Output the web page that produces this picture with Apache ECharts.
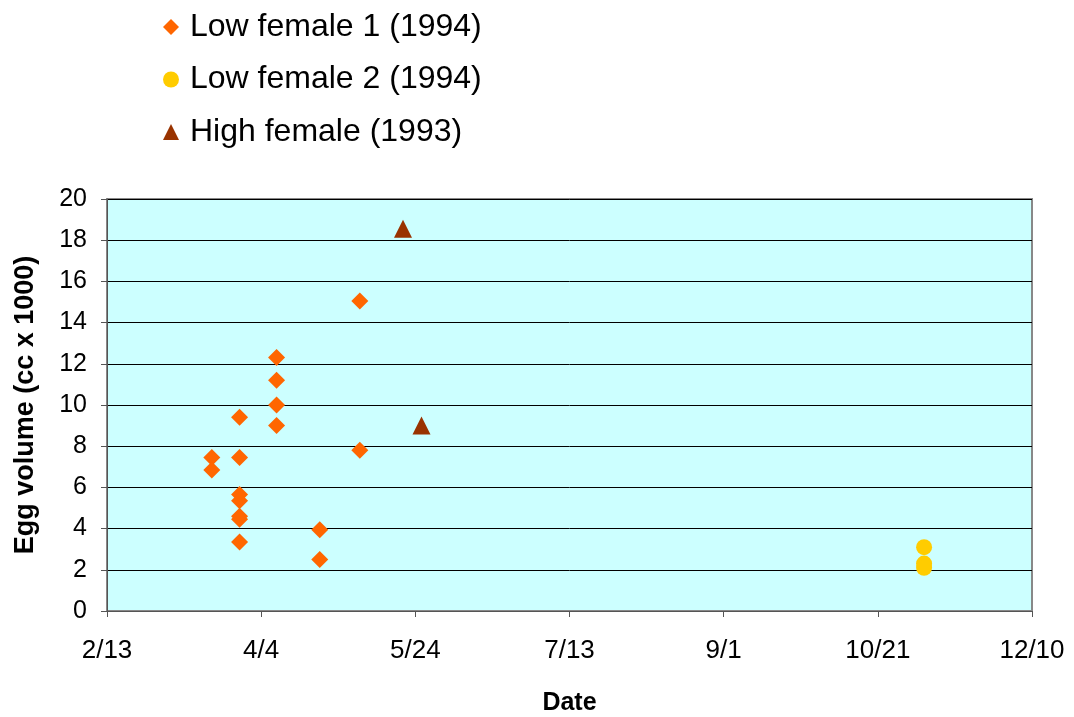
<!DOCTYPE html>
<html>
<head>
<meta charset="utf-8">
<title>Egg volume by date</title>
<script src="https://cdn.jsdelivr.net/npm/echarts@6/dist/echarts.min.js"></script>
<style>
  html, body { margin: 0; padding: 0; background: #ffffff; }
  #chart { width: 1074px; height: 717px; }
</style>
</head>
<body>
<div id="chart"></div>
<script>
// Sampling dates (month/day) and egg volumes (cc x 1000)
const lowFemale1Dates = ['3/19', '3/19', '3/28', '3/28', '3/28', '3/28', '3/28', '3/28', '3/28',
                         '4/9', '4/9', '4/9', '4/9', '4/23', '4/23', '5/6', '5/6'];
const lowFemale1Volumes = [7.45, 6.85, 9.4, 7.45, 5.65, 5.35, 4.6, 4.45, 3.35,
                           12.3, 11.2, 10.0, 9.0, 3.95, 2.5, 15.05, 7.8];

const lowFemale2Dates = ['11/5', '11/5', '11/5'];
const lowFemale2Volumes = [3.1, 2.3, 2.1];

const highFemaleDates = ['5/20', '5/26'];
const highFemaleVolumes = [18.55, 9.0];

const seriesNames = ['Low female 1 (1994)', 'Low female 2 (1994)', 'High female (1993)'];

// Date axis: 2/13 through 12/10, labelled every 50 days
const dateTickLabels = ['2/13', '4/4', '5/24', '7/13', '9/1', '10/21', '12/10'];
const dateTickStep = 50;

const volumeMin = 0, volumeMax = 20, volumeStep = 2;

// Day-of-year helpers (non-leap year)
const monthStarts = [0, 31, 59, 90, 120, 151, 181, 212, 243, 273, 304, 334];
function dayOfYear(md) {
  const [m, d] = md.split('/').map(Number);
  return monthStarts[m - 1] + d;
}
const axisStartDay = dayOfYear(dateTickLabels[0]);
const axisSpan = dayOfYear(dateTickLabels[dateTickLabels.length - 1]) - axisStartDay;

function toPoints(dates, vols) {
  return dates.map((d, i) => [dayOfYear(d) - axisStartDay, vols[i]]);
}

const font = 'Arial, "Liberation Sans", sans-serif';

const chart = echarts.init(document.getElementById('chart'), null, { renderer: 'canvas' });

chart.setOption({
  animation: false,
  backgroundColor: '#ffffff',
  textStyle: { fontFamily: font },
  legend: {
    orient: 'vertical',
    left: 158,
    top: 0,
    itemWidth: 16,
    itemHeight: 16,
    itemGap: 8.5,
    data: seriesNames,
    textStyle: {
      fontFamily: font,
      fontSize: 32,
      color: '#000000',
      lineHeight: 34,
      // extra bottom padding lifts the text a little above the marker
      padding: [0, 0, 10, 6]
    }
  },
  grid: {
    left: 107,
    right: 42,
    top: 199,
    bottom: 106,
    show: true,
    backgroundColor: '#CCFFFF',
    borderColor: '#888888',
    borderWidth: 2,
    containLabel: false,
    outerBoundsMode: 'none'
  },
  xAxis: {
    type: 'value',
    min: 0,
    max: axisSpan,
    interval: dateTickStep,
    name: 'Date',
    nameLocation: 'middle',
    nameGap: 80,
    nameTextStyle: { fontFamily: font, fontSize: 25, fontWeight: 'bold', color: '#000000' },
    axisLine: { show: true, onZero: false, lineStyle: { color: '#555555', width: 1 } },
    axisTick: { show: true, inside: false, length: 6, lineStyle: { color: '#555555' } },
    axisLabel: {
      margin: 27,
      fontFamily: font,
      fontSize: 26,
      color: '#000000',
      formatter: v => dateTickLabels[Math.round(v / dateTickStep)] || ''
    },
    splitLine: { show: false }
  },
  yAxis: {
    type: 'value',
    min: volumeMin,
    max: volumeMax,
    interval: volumeStep,
    name: 'Egg volume (cc x 1000)',
    nameLocation: 'middle',
    nameRotate: 90,
    nameGap: 68,
    nameTextStyle: { fontFamily: font, fontSize: 27, fontWeight: 'bold', color: '#000000' },
    axisLine: { show: true, onZero: false, lineStyle: { color: '#555555', width: 1 } },
    axisTick: { show: true, inside: false, length: 6, lineStyle: { color: '#555555' } },
    axisLabel: { margin: 20, fontFamily: font, fontSize: 25, color: '#000000' },
    splitLine: { show: true, lineStyle: { color: '#000000', width: 1 } }
  },
  series: [
    {
      name: seriesNames[0],
      type: 'scatter',
      symbol: 'diamond',
      symbolSize: 17,
      itemStyle: { color: '#FF6600', opacity: 1 },
      data: toPoints(lowFemale1Dates, lowFemale1Volumes)
    },
    {
      name: seriesNames[1],
      type: 'scatter',
      symbol: 'circle',
      symbolSize: 16,
      itemStyle: { color: '#FFCC00', opacity: 1 },
      data: toPoints(lowFemale2Dates, lowFemale2Volumes)
    },
    {
      name: seriesNames[2],
      type: 'scatter',
      symbol: 'triangle',
      symbolSize: 18,
      itemStyle: { color: '#993300', opacity: 1 },
      data: toPoints(highFemaleDates, highFemaleVolumes)
    }
  ]
});
</script>
</body>
</html>
